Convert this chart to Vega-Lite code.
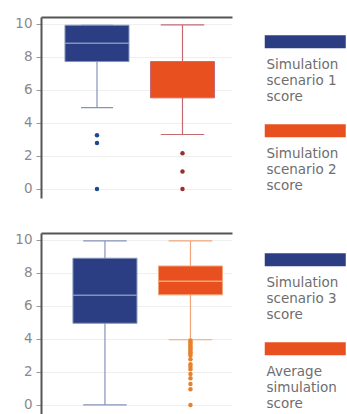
{
  "$schema": "https://vega.github.io/schema/vega-lite/v6.json",
  "background": "white",
  "padding": {"left": 14, "top": 16, "right": 0, "bottom": 0},
  "spacing": 21,
  "config": {
    "view": {"stroke": null},
    "font": "DejaVu Sans",
    "axisY": {
      "values": [0, 2, 4, 6, 8, 10],
      "domainColor": "#555555",
      "domainWidth": 2,
      "tickColor": "#999999",
      "tickSize": 5,
      "labelColor": "#8a8a8a",
      "labelFont": "DejaVu Sans",
      "labelFontSize": 13.5,
      "labelPadding": 4,
      "gridColor": "#efefef",
      "title": null
    },
    "legend": {
      "title": null,
      "orient": "right",
      "symbolType": "M-1,-1.3H15.2V1.3H-1Z",
      "symbolSize": 100,
      "symbolStrokeWidth": 0,
      "symbolOpacity": 1,
      "labelOffset": -10,
      "labelBaseline": "top",
      "labelFont": "DejaVu Sans",
      "labelFontSize": 13.5,
      "labelColor": "#6e6e6e",
      "labelLimit": 200,
      "rowPadding": 20
    }
  },
  "datasets": {
    "boxes": [
      {"panel": 1, "series": "Simulation scenario 1 score", "lower": 4.93, "q1": 7.72, "median": 8.83, "q3": 9.92, "upper": 9.92},
      {"panel": 1, "series": "Simulation scenario 2 score", "lower": 3.3, "q1": 5.52, "median": 6.6, "q3": 7.72, "upper": 9.94},
      {"panel": 2, "series": "Simulation scenario 3 score", "lower": 0, "q1": 4.95, "median": 6.65, "q3": 8.89, "upper": 9.94},
      {"panel": 2, "series": "Average simulation score", "lower": 3.95, "q1": 6.67, "median": 7.5, "q3": 8.42, "upper": 9.94}
    ],
    "outliers": [
      {"panel": 1, "series": "Simulation scenario 1 score", "value": 3.25},
      {"panel": 1, "series": "Simulation scenario 1 score", "value": 2.79},
      {"panel": 1, "series": "Simulation scenario 1 score", "value": 0},
      {"panel": 1, "series": "Simulation scenario 2 score", "value": 2.16},
      {"panel": 1, "series": "Simulation scenario 2 score", "value": 1.05},
      {"panel": 1, "series": "Simulation scenario 2 score", "value": 0},
      {"panel": 2, "series": "Average simulation score", "value": 3.9},
      {"panel": 2, "series": "Average simulation score", "value": 3.8},
      {"panel": 2, "series": "Average simulation score", "value": 3.7},
      {"panel": 2, "series": "Average simulation score", "value": 3.6},
      {"panel": 2, "series": "Average simulation score", "value": 3.5},
      {"panel": 2, "series": "Average simulation score", "value": 3.4},
      {"panel": 2, "series": "Average simulation score", "value": 3.3},
      {"panel": 2, "series": "Average simulation score", "value": 3.2},
      {"panel": 2, "series": "Average simulation score", "value": 3.1},
      {"panel": 2, "series": "Average simulation score", "value": 3.0},
      {"panel": 2, "series": "Average simulation score", "value": 2.77},
      {"panel": 2, "series": "Average simulation score", "value": 2.47},
      {"panel": 2, "series": "Average simulation score", "value": 2.32},
      {"panel": 2, "series": "Average simulation score", "value": 2.16},
      {"panel": 2, "series": "Average simulation score", "value": 1.88},
      {"panel": 2, "series": "Average simulation score", "value": 1.62},
      {"panel": 2, "series": "Average simulation score", "value": 1.27},
      {"panel": 2, "series": "Average simulation score", "value": 0.95},
      {"panel": 2, "series": "Average simulation score", "value": 0}
    ]
  },
  "resolve": {
    "scale": {"x": "independent", "y": "independent", "fill": "independent", "stroke": "independent", "color": "independent"},
    "legend": {"fill": "independent"}
  },
  "vconcat": [
    {
      "width": 191,
      "height": 181,
      "layer": [
        {
          "data": {"name": "boxes"},
          "transform": [{"filter": "datum.panel == 1"}],
          "mark": {"type": "rule", "strokeWidth": 1.2},
          "encoding": {
            "x": {"field": "series", "type": "nominal", "sort": null,
              "scale": {"type": "band", "domain": ["Simulation scenario 1 score", "Simulation scenario 2 score"], "paddingInner": 0.2515, "paddingOuter": 0.2427, "align": 0.578},
              "axis": {"orient": "top", "domain": true, "domainColor": "#555555", "domainWidth": 2, "ticks": false, "labels": false, "grid": false, "title": null}},
            "y": {"field": "lower", "type": "quantitative", "scale": {"domain": [-0.55, 10.42], "nice": false, "zero": false}},
            "y2": {"field": "upper"},
            "stroke": {"field": "series", "type": "nominal", "scale": {"domain": ["Simulation scenario 2 score", "Simulation scenario 1 score"], "range": ["#c46a70", "#8494b9"]}, "legend": null}
          }
        },
        {
          "data": {"name": "boxes"},
          "transform": [{"filter": "datum.panel == 1 && datum.series == 'Simulation scenario 1 score'"}, {"fold": ["lower", "upper"], "as": ["end", "v"]}],
          "mark": {"type": "rule", "strokeWidth": 1.2},
          "encoding": {
            "x": {"field": "series", "type": "nominal", "bandPosition": 0.25},
            "x2": {"field": "series", "bandPosition": 0.75},
            "y": {"field": "v", "type": "quantitative"},
            "stroke": {"field": "series", "type": "nominal", "legend": null}
          }
        },
        {
          "data": {"name": "boxes"},
          "transform": [{"filter": "datum.panel == 1 && datum.series == 'Simulation scenario 2 score'"}, {"fold": ["lower", "upper"], "as": ["end", "v"]}],
          "mark": {"type": "rule", "strokeWidth": 1.2},
          "encoding": {
            "x": {"field": "series", "type": "nominal", "bandPosition": 0.16},
            "x2": {"field": "series", "bandPosition": 0.84},
            "y": {"field": "v", "type": "quantitative"},
            "stroke": {"field": "series", "type": "nominal", "legend": null}
          }
        },
        {
          "data": {"name": "boxes"},
          "transform": [{"filter": "datum.panel == 1"}],
          "mark": {"type": "bar"},
          "encoding": {
            "x": {"field": "series", "type": "nominal"},
            "y": {"field": "q1", "type": "quantitative"},
            "y2": {"field": "q3"},
            "fill": {"field": "series", "type": "nominal",
              "scale": {"domain": ["Simulation scenario 1 score", "Simulation scenario 2 score"], "range": ["#2b3e83", "#e8501f"]},
              "legend": {"offset": 13, "padding": 18,
                "labelExpr": "[slice(datum.label, 0, indexof(datum.label, ' ')), slice(datum.label, indexof(datum.label, ' ') + 1, length(datum.label) - 6), 'score']",
                "encoding": {"labels": {"lineHeight": {"value": 16}, "dy": {"value": 16}}}}}
          }
        },
        {
          "data": {"name": "boxes"},
          "transform": [{"filter": "datum.panel == 1"}],
          "mark": {"type": "bar", "filled": false, "strokeWidth": 1},
          "encoding": {
            "x": {"field": "series", "type": "nominal"},
            "y": {"field": "q1", "type": "quantitative"},
            "y2": {"field": "q3"},
            "stroke": {"field": "series", "type": "nominal", "legend": null}
          }
        },
        {
          "data": {"name": "boxes"},
          "transform": [{"filter": "datum.panel == 1 && datum.series != 'Simulation scenario 2 score'"}],
          "mark": {"type": "rule", "strokeWidth": 1.5},
          "encoding": {
            "x": {"field": "series", "type": "nominal", "bandPosition": 0},
            "x2": {"field": "series", "bandPosition": 1},
            "y": {"field": "median", "type": "quantitative"},
            "stroke": {"field": "series", "type": "nominal", "legend": null}
          }
        },
        {
          "data": {"name": "outliers"},
          "transform": [{"filter": "datum.panel == 1"}],
          "mark": {"type": "point", "filled": true, "size": 20, "opacity": 1},
          "encoding": {
            "x": {"field": "series", "type": "nominal"},
            "y": {"field": "value", "type": "quantitative"},
            "color": {"field": "series", "type": "nominal", "scale": {"domain": ["Simulation scenario 2 score", "Simulation scenario 1 score"], "range": ["#a02c2c", "#1f4a8a"]}, "legend": null}
          }
        }
      ]
    },
    {
      "width": 191,
      "height": 181,
      "layer": [
        {
          "data": {"name": "boxes"},
          "transform": [{"filter": "datum.panel == 2"}],
          "mark": {"type": "rule", "strokeWidth": 1.2},
          "encoding": {
            "x": {"field": "series", "type": "nominal", "sort": null,
              "scale": {"type": "band", "domain": ["Simulation scenario 3 score", "Average simulation score"], "paddingInner": 0.2515, "paddingOuter": 0.2427, "align": 0.77},
              "axis": {"orient": "top", "domain": true, "domainColor": "#555555", "domainWidth": 2, "ticks": false, "labels": false, "grid": false, "title": null}},
            "y": {"field": "lower", "type": "quantitative", "scale": {"domain": [-0.55, 10.42], "nice": false, "zero": false}},
            "y2": {"field": "upper"},
            "stroke": {"field": "series", "type": "nominal", "scale": {"domain": ["Average simulation score", "Simulation scenario 3 score"], "range": ["#f2a57a", "#8494b9"]}, "legend": null}
          }
        },
        {
          "data": {"name": "boxes"},
          "transform": [{"filter": "datum.panel == 2"}, {"fold": ["lower", "upper"], "as": ["end", "v"]}],
          "mark": {"type": "rule", "strokeWidth": 1.2},
          "encoding": {
            "x": {"field": "series", "type": "nominal", "bandPosition": 0.16},
            "x2": {"field": "series", "bandPosition": 0.84},
            "y": {"field": "v", "type": "quantitative"},
            "stroke": {"field": "series", "type": "nominal", "legend": null}
          }
        },
        {
          "data": {"name": "boxes"},
          "transform": [{"filter": "datum.panel == 2"}],
          "mark": {"type": "bar"},
          "encoding": {
            "x": {"field": "series", "type": "nominal"},
            "y": {"field": "q1", "type": "quantitative"},
            "y2": {"field": "q3"},
            "fill": {"field": "series", "type": "nominal",
              "scale": {"domain": ["Simulation scenario 3 score", "Average simulation score"], "range": ["#2b3e83", "#e8501f"]},
              "legend": {"offset": 11, "padding": 20,
                "labelExpr": "[slice(datum.label, 0, indexof(datum.label, ' ')), slice(datum.label, indexof(datum.label, ' ') + 1, length(datum.label) - 6), 'score']",
                "encoding": {"labels": {"lineHeight": {"value": 16}, "dy": {"value": 16}}}}}
          }
        },
        {
          "data": {"name": "boxes"},
          "transform": [{"filter": "datum.panel == 2"}],
          "mark": {"type": "bar", "filled": false, "strokeWidth": 1},
          "encoding": {
            "x": {"field": "series", "type": "nominal"},
            "y": {"field": "q1", "type": "quantitative"},
            "y2": {"field": "q3"},
            "stroke": {"field": "series", "type": "nominal", "legend": null}
          }
        },
        {
          "data": {"name": "boxes"},
          "transform": [{"filter": "datum.panel == 2"}],
          "mark": {"type": "rule", "strokeWidth": 1.5},
          "encoding": {
            "x": {"field": "series", "type": "nominal", "bandPosition": 0},
            "x2": {"field": "series", "bandPosition": 1},
            "y": {"field": "median", "type": "quantitative"},
            "stroke": {"field": "series", "type": "nominal", "legend": null}
          }
        },
        {
          "data": {"name": "outliers"},
          "transform": [{"filter": "datum.panel == 2"}],
          "mark": {"type": "point", "filled": true, "size": 20, "opacity": 1},
          "encoding": {
            "x": {"field": "series", "type": "nominal"},
            "y": {"field": "value", "type": "quantitative"},
            "color": {"field": "series", "type": "nominal", "scale": {"domain": ["Average simulation score", "Simulation scenario 3 score"], "range": ["#e8812c", "#1f4a8a"]}, "legend": null}
          }
        }
      ]
    }
  ]
}
